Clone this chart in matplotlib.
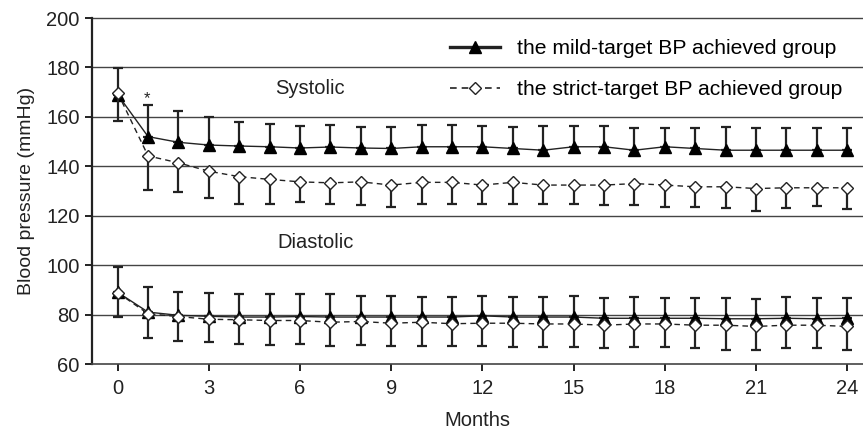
import matplotlib
matplotlib.use('Agg')
import matplotlib.pyplot as plt
from matplotlib.lines import Line2D
import numpy as np

plt.rcParams['font.family'] = ['Liberation Sans', 'DejaVu Sans']

months = list(range(25))

# systolic, mean and SD (upper bars for mild, lower bars for strict)
sys_mild = [169, 152, 149.7, 148.6, 148.2, 147.9, 147.4, 147.8, 147.4, 147.2, 147.9, 147.9, 147.9,
            147.2, 146.5, 147.9, 147.9, 146.5, 147.9, 147.2, 146.5, 146.5, 146.5, 146.5, 146.5]
sys_mild_sd = [10.6, 12.7, 12.7, 11.4, 9.7, 9.4, 8.8, 8.8, 8.6, 8.8, 8.7, 8.7, 8.4,
               8.6, 9.8, 8.4, 8.4, 8.9, 7.5, 8.2, 9.3, 8.9, 8.9, 8.9, 9.1]
sys_strict = [169.7, 144.2, 141.4, 138, 135.8, 134.7, 133.7, 133.3, 133.7, 132.4, 133.5, 133.5, 132.4,
              133.5, 132.4, 132.4, 132.4, 133, 132.4, 131.7, 131.7, 131, 131.3, 131.3, 131.3]
sys_strict_sd = [11.3, 13.8, 12, 11, 11.1, 10, 8.2, 8.6, 9.4, 9, 8.6, 8.6, 7.5,
                 8.6, 7.7, 7.7, 8.1, 8.7, 9, 8.3, 8.7, 9, 8.3, 7.3, 8.7]

# diastolic
dia_mild = [89, 81, 79.7, 79.3, 79, 79, 79.2, 79, 79, 79, 79, 79, 79.5,
            79, 79, 79, 78.5, 78.5, 78.5, 78.5, 78.3, 78.3, 78.5, 78.3, 78.5]
dia_mild_sd = [10.4, 10.2, 9.6, 9.6, 9.4, 9.4, 9.2, 9.4, 8.6, 8.6, 8, 8, 8.1,
               8, 8, 8.6, 8.1, 8.5, 8.1, 8.1, 8.3, 7.9, 8.5, 8.3, 8.1]
dia_strict = [88.9, 80.3, 79.2, 78.1, 77.9, 77.6, 77.6, 76.9, 77.2, 76.5, 76.9, 76.3, 76.5,
              76.5, 76.2, 76.2, 75.7, 76.2, 76.2, 75.7, 75.7, 75.2, 75.7, 75.7, 75.2]
dia_strict_sd = [9.9, 9.6, 9.7, 9.4, 9.7, 9.8, 9.4, 9.8, 9.4, 9.4, 9.8, 9.2, 9.4,
                 9.8, 9.5, 9.5, 9.4, 9.5, 9.5, 9.4, 10, 9.5, 9.4, 9.4, 9.5]

yticks = [60, 80, 100, 120, 140, 160, 180, 200]
xticks = [0, 3, 6, 9, 12, 15, 18, 21, 24]

fig = plt.figure(figsize=(8.63, 4.33), dpi=100)
ax = fig.add_axes([92/863, 1-364/433, 1-92/863, (364-18)/433])

for v in yticks[1:]:
    ax.axhline(v, color='#444444', lw=1.0, zorder=0, clip_on=False)

txt = '#222222'
fs = 14.5
zero = [0]*len(months)
for mean, sd in [(sys_mild, sys_mild_sd), (dia_mild, dia_mild_sd)]:
    ax.errorbar(months, mean, yerr=[zero, sd], fmt='none', ecolor=txt,
                elinewidth=1.6, capsize=3.6, capthick=1.6, zorder=2)
    ax.plot(months, mean, color=txt, lw=1.0, marker='^', ms=8,
            mfc='black', mec='black', zorder=3)
for mean, sd in [(sys_strict, sys_strict_sd), (dia_strict, dia_strict_sd)]:
    ax.errorbar(months, mean, yerr=[sd, zero], fmt='none', ecolor=txt,
                elinewidth=1.6, capsize=3.6, capthick=1.6, zorder=4)
    ax.plot(months, mean, color=txt, lw=1.0, ls=(0, (4, 3)), marker='D', ms=6.5,
            mfc='white', mec=txt, mew=1.0, zorder=5)

ax.text(6.33, 171.5, 'Systolic', ha='center', va='center', fontsize=fs, color=txt)
ax.text(6.5, 109.3, 'Diastolic', ha='center', va='center', fontsize=fs, color=txt)
ax.text(0.97, 167.5, '*', ha='center', va='center', fontsize=12, color=txt)

ax.set_xlim(-0.845, 24.52)
ax.set_ylim(60, 200)
ax.set_xticks(xticks)
ax.set_yticks(yticks)
ax.tick_params(labelsize=fs, colors=txt, length=5, width=1.4)
ax.tick_params(axis='y', pad=4)
ax.tick_params(axis='x', pad=6)
for s in ['top', 'right']:
    ax.spines[s].set_visible(False)
ax.spines['left'].set_linewidth(1.6)
ax.spines['bottom'].set_linewidth(1.2)
ax.spines['left'].set_color(txt)
ax.spines['bottom'].set_color('#444444')
ax.set_xlabel('Months', fontsize=fs, color=txt, labelpad=9)
ax.set_ylabel('Blood pressure (mmHg)', fontsize=14, color=txt, labelpad=8)

handles = [
    Line2D([], [], color=txt, lw=2.4, marker='^', ms=8, mfc='black', mec='black'),
    Line2D([], [], color=txt, lw=1.2, ls=(0, (4, 3)), marker='D', ms=6.5, mfc='white', mec=txt),
]
ax.legend(handles, ['the mild-target BP achieved group', 'the strict-target BP achieved group'],
          loc='upper right', bbox_to_anchor=(0.998, 0.993), frameon=False, fontsize=15.2,
          handlelength=2.4, handletextpad=0.8, labelspacing=1.02)

fig.savefig('out.png', dpi=100)
